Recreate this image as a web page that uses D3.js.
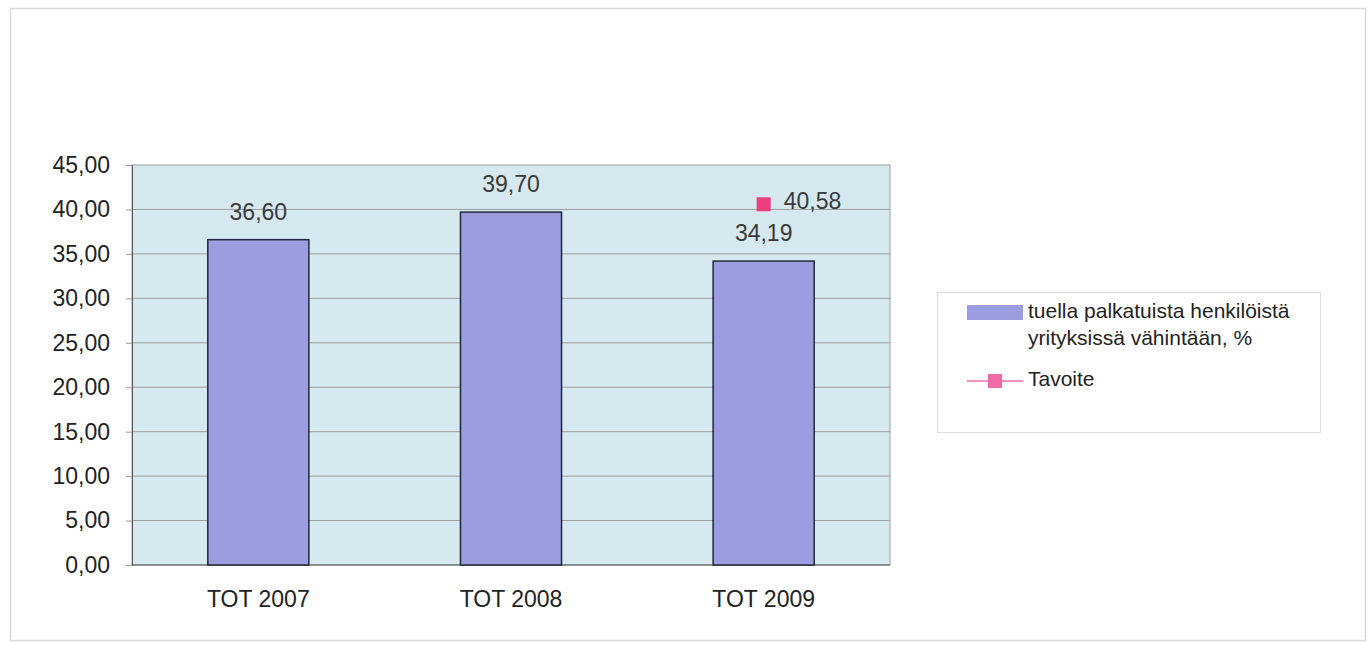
<!DOCTYPE html>
<html><head><meta charset="utf-8">
<script src="https://cdn.jsdelivr.net/npm/d3@7"></script>
<style>body{margin:0;background:#fff}svg{display:block;font-family:"Liberation Sans",Arial,sans-serif}</style>
</head><body><svg id="c" width="1370" height="645"></svg>
<script>
const categories = ["TOT 2007","TOT 2008","TOT 2009"];
const barValues = [36.60, 39.70, 34.19];
const barLabels = ["36,60","39,70","34,19"];
const targetCategories = ["TOT 2009"];
const targetValues = [40.58];
const targetLabels = ["40,58"];
const yTicks = [0,5,10,15,20,25,30,35,40,45];
const legendLabels = [["tuella palkatuista henkilöistä","yrityksissä vähintään, %"],["Tavoite"]];

const svg = d3.select("#c");
const fmt = v => v.toFixed(2).replace(".", ",");
const FS = 23;
// outer frame
svg.append("rect").attr("x",10.5).attr("y",8.5).attr("width",1355).attr("height",632)
  .attr("fill","none").attr("stroke","#d8d8d8").attr("stroke-width",1.5);

const L=132, R=890, T=165, B=565;
const x = d3.scaleBand().domain(categories).range([L,R]).paddingInner(0.6).paddingOuter(0.3);
const y = d3.scaleLinear().domain([0,45]).range([B,T]);

svg.append("rect").attr("x",L).attr("y",T).attr("width",R-L).attr("height",B-T)
  .attr("fill","#d6e8f0").attr("stroke","#9aa0a0");
svg.append("g").selectAll("line").data(yTicks.filter(d=>d>0 && d<45)).join("line")
  .attr("x1",L).attr("x2",R).attr("y1",d=>y(d)).attr("y2",d=>y(d))
  .attr("stroke","#9a9f9f").attr("stroke-width",1);

const yAxis = svg.append("g").attr("transform",`translate(${L},0)`)
  .call(d3.axisLeft(y).tickValues(yTicks).tickFormat(fmt).tickSize(6).tickPadding(16));
yAxis.select(".domain").attr("stroke","#555");
yAxis.selectAll(".tick line").attr("stroke","#999");
yAxis.selectAll("text").attr("font-size",FS).attr("fill","#222").attr("font-family","Liberation Sans, Arial");

svg.append("line").attr("x1",L).attr("x2",R).attr("y1",B).attr("y2",B).attr("stroke","#555");

const xAxis = svg.append("g").attr("transform",`translate(0,${B})`)
  .call(d3.axisBottom(x).tickSize(0).tickPadding(26));
xAxis.select(".domain").remove();
xAxis.selectAll("text").attr("font-size",FS).attr("fill","#222").attr("font-family","Liberation Sans, Arial");

svg.append("g").selectAll("rect").data(categories).join("rect")
  .attr("x",d=>x(d)).attr("width",x.bandwidth())
  .attr("y",(d,i)=>y(barValues[i])).attr("height",(d,i)=>y(0)-y(barValues[i]))
  .attr("fill","#9c9de0").attr("stroke","#1e2838").attr("stroke-width",1.5);

svg.append("g").selectAll("text").data(categories).join("text")
  .attr("x",d=>x(d)+x.bandwidth()/2).attr("y",(d,i)=>y(barValues[i])-20)
  .attr("text-anchor","middle").attr("font-size",FS).attr("fill","#3a3a3a")
  .text((d,i)=>barLabels[i]);

const tg = svg.append("g");
targetCategories.forEach((c,i)=>{
  const cx = x(c)+x.bandwidth()/2, cy = y(targetValues[i]);
  tg.append("rect").attr("x",cx-7).attr("y",cy-7).attr("width",14).attr("height",14).attr("fill","#ec3f7c");
  tg.append("text").attr("x",cx+20).attr("y",cy+5).attr("font-size",FS).attr("fill","#3a3a3a").text(targetLabels[i]);
});

// legend
const LF = 21;
const lg = svg.append("g");
lg.append("rect").attr("x",937.5).attr("y",292.5).attr("width",383).attr("height",140)
  .attr("fill","#fff").attr("stroke","#dcdcdc");
lg.append("rect").attr("x",967).attr("y",305).attr("width",56).attr("height",15).attr("fill","#9c9de0");
lg.append("text").attr("font-size",LF).attr("fill","#222").selectAll("tspan").data(legendLabels[0]).join("tspan")
  .attr("x",1028).attr("y",(d,i)=>318+i*27).text(d=>d);
lg.append("line").attr("x1",967).attr("x2",1023).attr("y1",381).attr("y2",381).attr("stroke","#f06aa8").attr("stroke-width",1.5);
lg.append("rect").attr("x",988).attr("y",374).attr("width",14).attr("height",14).attr("fill","#f06aa8");
lg.append("text").attr("x",1028).attr("y",386).attr("font-size",LF).attr("fill","#222").text(legendLabels[1][0]);
</script></body></html>
